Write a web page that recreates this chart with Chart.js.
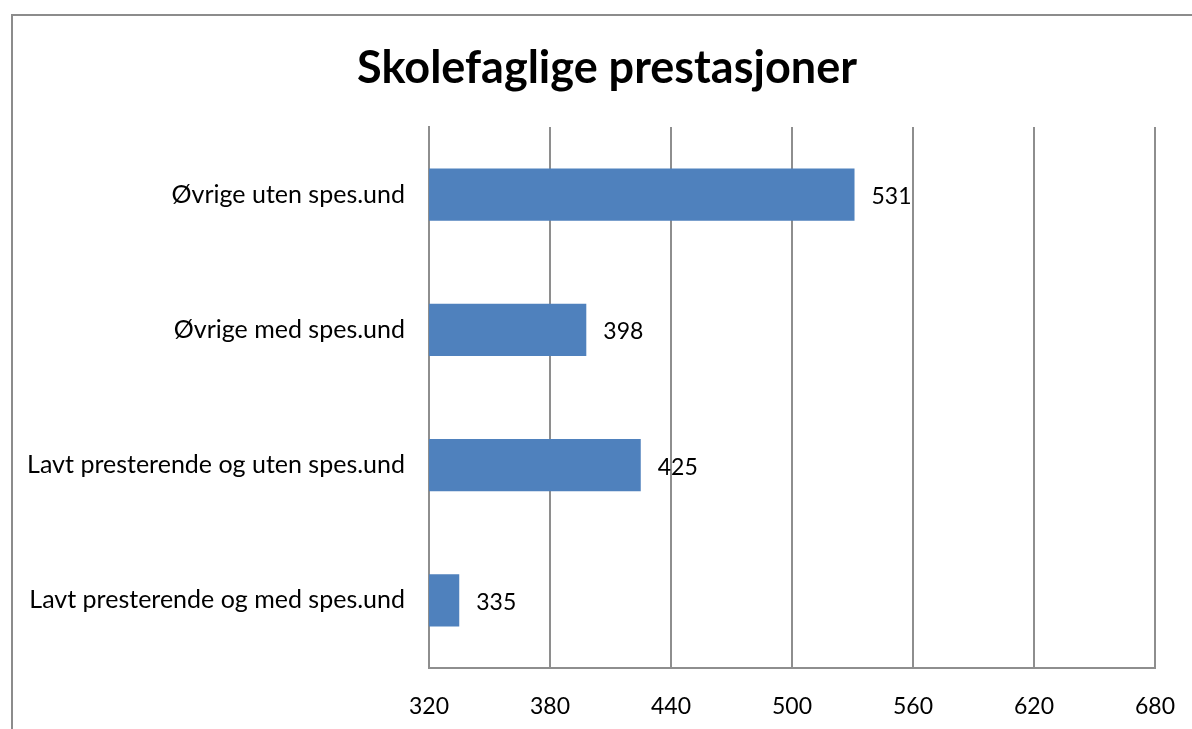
<!DOCTYPE html>
<html lang="no">
<head>
    <meta charset="UTF-8">
    <title>Skolefaglige prestasjoner</title>
    <script src="https://cdn.jsdelivr.net/npm/chart.js"></script>
    <style>
        html, body { margin: 0; padding: 0; background: #fff; overflow: hidden; }
        #frame {
            position: absolute; left: 11px; top: 14px; width: 1300px; height: 800px;
            border-left: 2px solid #8c8c8c; border-top: 2px solid #8c8c8c;
        }
        #wrap { position: absolute; left: 0; top: 0; width: 1192px; height: 729px; }
    </style>
</head>
<body>
    <div id="frame"></div>
    <div id="wrap"><canvas id="chart" width="1192" height="729"></canvas></div>

    <script>
    const chartTitle = 'Skolefaglige prestasjoner';
    const categories = [
        'Øvrige uten spes.und',
        'Øvrige med spes.und',
        'Lavt presterende og uten spes.und',
        'Lavt presterende og med spes.und'
    ];
    const scores = [531, 398, 425, 335];
    const axisMin = 320;
    const axisMax = 680;
    const axisStep = 60;

    const fontFamily = 'Lato, "Open Sans", sans-serif';

    // title sits a bit right of the canvas centre, like the original
    const titlePlugin = {
        id: 'titlePlugin',
        afterDraw(chart) {
            const ctx = chart.ctx;
            ctx.save();
            ctx.font = 'bold 45px ' + fontFamily;
            ctx.fillStyle = '#000';
            ctx.textAlign = 'center';
            ctx.textBaseline = 'middle';
            ctx.fillText(chartTitle, 607, 68);
            ctx.restore();
        }
    };

    // value labels to the right of each bar
    const valueLabels = {
        id: 'valueLabels',
        afterDatasetsDraw(chart) {
            const ctx = chart.ctx;
            const meta = chart.getDatasetMeta(0);
            ctx.save();
            ctx.font = '23px ' + fontFamily;
            ctx.fillStyle = '#000';
            ctx.textAlign = 'left';
            ctx.textBaseline = 'middle';
            meta.data.forEach((bar, i) => {
                ctx.fillText(String(scores[i]), bar.x + 17, bar.y + 2);
            });
            ctx.restore();
        }
    };

    new Chart(document.getElementById('chart'), {
        type: 'bar',
        data: {
            labels: categories,
            datasets: [{
                data: scores,
                backgroundColor: '#4f81bd',
                barPercentage: 0.385,
                categoryPercentage: 1
            }]
        },
        options: {
            indexAxis: 'y',
            responsive: false,
            animation: false,
            layout: { padding: { left: 0, right: 37, top: 127, bottom: 0 } },
            plugins: {
                legend: { display: false },
                tooltip: { enabled: false },
                title: { display: false }
            },
            scales: {
                x: {
                    min: axisMin,
                    max: axisMax,
                    ticks: {
                        stepSize: axisStep,
                        color: '#000',
                        font: { family: fontFamily, size: 23 },
                        padding: 25
                    },
                    grid: { color: '#8e8e8e', lineWidth: 2, drawTicks: false },
                    border: { display: true, color: '#8e8e8e', width: 2 },
                    afterFit(scale) {
                        scale.height = 61;
                        scale.paddingLeft = 0;
                        scale.paddingRight = 0;
                    }
                },
                y: {
                    ticks: {
                        color: '#000',
                        font: { family: fontFamily, size: 25 },
                        padding: 24
                    },
                    grid: { display: false, drawTicks: false },
                    border: { display: true, color: '#8e8e8e', width: 2 },
                    afterFit(scale) { scale.width = 429; }
                }
            }
        },
        plugins: [valueLabels, titlePlugin]
    });
    </script>
</body>
</html>
